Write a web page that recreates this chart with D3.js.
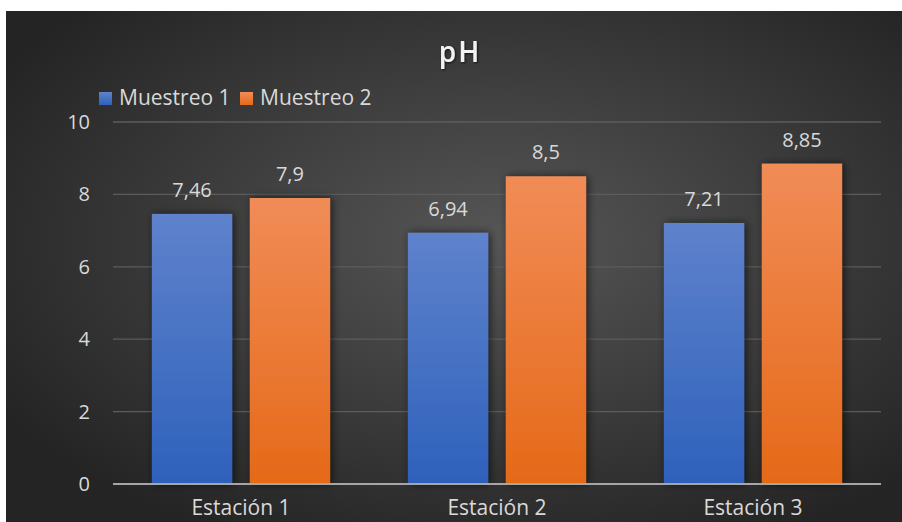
<!DOCTYPE html>
<html>
<head>
<meta charset="utf-8">
<script src="https://cdn.jsdelivr.net/npm/d3@7"></script>
<style>
  body { margin: 0; background: #fff; }
  svg { display: block; font-family: 'Open Sans', sans-serif; }
</style>
</head>
<body>
<script>
const categories = ['Estación 1', 'Estación 2', 'Estación 3'];
const seriesNames = ['Muestreo 1', 'Muestreo 2'];
const muestreo1 = [7.46, 6.94, 7.21];
const muestreo2 = [7.9, 8.5, 8.85];
const yTicks = [0, 2, 4, 6, 8, 10];

const W = 902, H = 522;
const plot = { left: 113, right: 881, top: 122, bottom: 484 };

const svg = d3.select('body').append('svg')
  .attr('width', W)
  .attr('height', H);

const defs = svg.append('defs');

const bg = defs.append('radialGradient')
  .attr('id', 'bg')
  .attr('cx', '55%').attr('cy', '45%').attr('r', '65%');
bg.append('stop').attr('offset', '0%').attr('stop-color', '#565656');
bg.append('stop').attr('offset', '100%').attr('stop-color', '#242424');

const grads = [['blueGrad', '#5f82cc', '#2e61bb'], ['orangeGrad', '#f18c57', '#e56918']];
grads.forEach(([id, top, bot]) => {
  const g = defs.append('linearGradient').attr('id', id)
    .attr('x1', 0).attr('y1', 0).attr('x2', 0).attr('y2', 1);
  g.append('stop').attr('offset', '0%').attr('stop-color', top);
  g.append('stop').attr('offset', '100%').attr('stop-color', bot);
});

const shadow = defs.append('filter').attr('id', 'shadow')
  .attr('x', '-30%').attr('y', '-10%').attr('width', '160%').attr('height', '120%');
shadow.append('feDropShadow')
  .attr('dx', 2).attr('dy', 0).attr('stdDeviation', 4)
  .attr('flood-color', '#000').attr('flood-opacity', 0.6);

const titleShadow = defs.append('filter').attr('id', 'tshadow');
titleShadow.append('feDropShadow')
  .attr('dx', 1).attr('dy', 1).attr('stdDeviation', 1.2)
  .attr('flood-color', '#000').attr('flood-opacity', 0.7);

// panel
svg.append('rect')
  .attr('x', 6).attr('y', 11)
  .attr('width', W - 6).attr('height', H - 11)
  .attr('fill', 'url(#bg)');

const x0 = d3.scaleBand().domain(categories).range([plot.left, plot.right])
  .paddingInner(0.304).paddingOuter(0.152);
const x1 = d3.scaleBand().domain(seriesNames).range([0, x0.bandwidth()]).paddingInner(0.18);
const y = d3.scaleLinear().domain([0, 10]).range([plot.bottom, plot.top]);

// gridlines
svg.append('g')
  .selectAll('line')
  .data(yTicks.filter(d => d > 0))
  .join('line')
  .attr('x1', plot.left).attr('x2', plot.right)
  .attr('y1', d => y(d)).attr('y2', d => y(d))
  .attr('stroke', '#5c5c5c').attr('stroke-width', 1.3);

// y axis labels
const yAxis = svg.append('g')
  .attr('transform', `translate(${plot.left},0)`)
  .call(d3.axisLeft(y).tickValues(yTicks).tickSize(0).tickPadding(23));
yAxis.select('.domain').remove();
yAxis.selectAll('text')
  .attr('fill', '#d9d9d9')
  .style('font-size', '20px')
  .style('font-family', "'Open Sans', sans-serif");

const series = [muestreo1, muestreo2];
const fills = ['url(#blueGrad)', 'url(#orangeGrad)'];

const groups = svg.append('g')
  .selectAll('g')
  .data(categories)
  .join('g')
  .attr('transform', d => `translate(${x0(d)},0)`);

groups.selectAll('rect')
  .data((d, i) => seriesNames.map((s, j) => ({ s, v: series[j][i], j })))
  .join('rect')
  .attr('x', d => x1(d.s))
  .attr('y', d => y(d.v))
  .attr('width', x1.bandwidth())
  .attr('height', d => y(0) - y(d.v))
  .attr('fill', d => fills[d.j])
  .attr('filter', 'url(#shadow)');

groups.selectAll('text')
  .data((d, i) => seriesNames.map((s, j) => ({ s, v: series[j][i] })))
  .join('text')
  .attr('x', d => x1(d.s) + x1.bandwidth() / 2)
  .attr('y', d => y(d.v) - 17)
  .attr('text-anchor', 'middle')
  .attr('fill', '#d9d9d9')
  .style('font-size', '20px')
  .text(d => String(d.v).replace('.', ','));

// baseline
svg.append('line')
  .attr('x1', plot.left).attr('x2', plot.right)
  .attr('y1', y(0)).attr('y2', y(0))
  .attr('stroke', '#a6a6a6').attr('stroke-width', 2);

// category labels
const xAxis = svg.append('g')
  .attr('transform', `translate(0,${plot.bottom})`)
  .call(d3.axisBottom(x0).tickSize(0).tickPadding(16));
xAxis.select('.domain').remove();
xAxis.selectAll('text')
  .attr('fill', '#d9d9d9')
  .style('font-size', '21px')
  .style('font-family', "'Open Sans', sans-serif");

// title
svg.append('text')
  .attr('x', 460).attr('y', 62)
  .attr('text-anchor', 'middle')
  .attr('fill', '#f2f2f2')
  .attr('filter', 'url(#tshadow)')
  .style('font-size', '28px')
  .style('font-weight', '600')
  .style('letter-spacing', '2px')
  .text('pH');

// legend
const legend = svg.append('g');
const legendX = [99, 240];
seriesNames.forEach((name, i) => {
  legend.append('rect')
    .attr('x', legendX[i]).attr('y', 92)
    .attr('width', 13).attr('height', 13)
    .attr('fill', fills[i]);
  legend.append('text')
    .attr('x', legendX[i] + 20).attr('y', 105)
    .attr('fill', '#d9d9d9')
    .style('font-size', '21px')
    .text(name);
});
</script>
</body>
</html>
